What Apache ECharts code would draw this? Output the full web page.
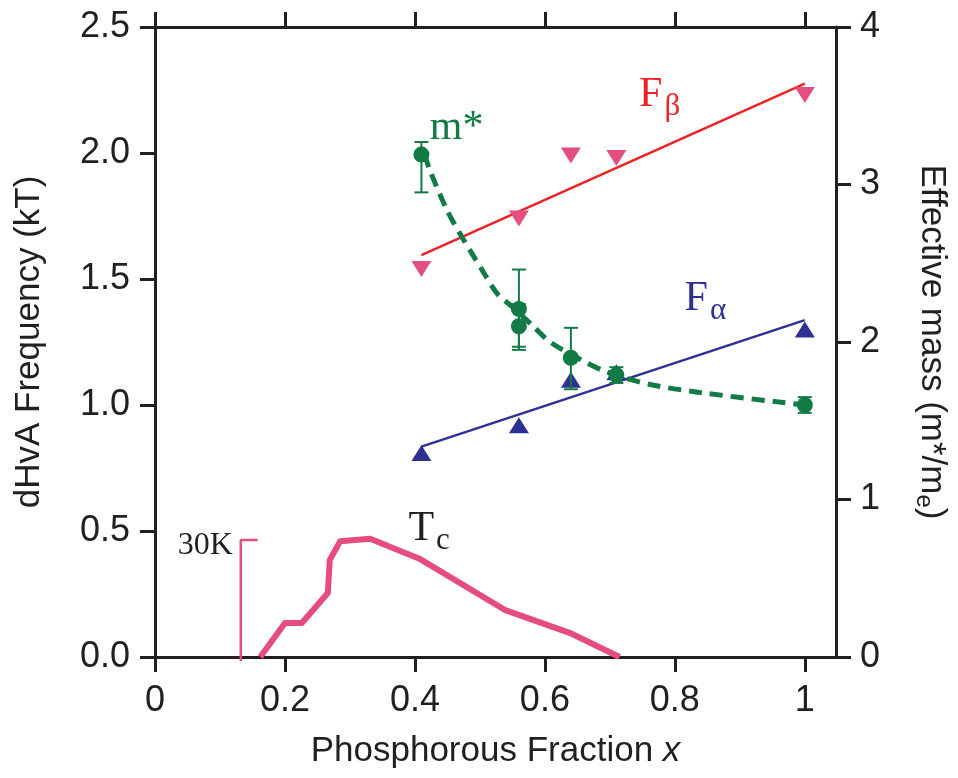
<!DOCTYPE html>
<html>
<head>
<meta charset="utf-8">
<title>dHvA frequency and effective mass vs phosphorous fraction</title>
<script src="https://cdn.jsdelivr.net/npm/echarts@6/dist/echarts.min.js"></script>
<style>
  html, body { margin: 0; padding: 0; background: #fff; }
  #chart { width: 958px; height: 778px; }
</style>
</head>
<body>
<div id="chart"></div>
<script>
// x axis ticks (phosphorous fraction)
const xTicks = [0, 0.2, 0.4, 0.6, 0.8, 1.0]
// phosphorous fraction x of the samples
const sampleX = [0.41, 0.56, 0.64, 0.71, 1.0]
// dHvA frequencies (kT)
const fBeta = [1.54, 1.74, 1.99, 1.98, 2.23]
const fAlpha = [0.81, 0.92, 1.10, 1.13, 1.30]
// linear guides
const fBetaLine = [[0.41, 1.595], [1.0, 2.275]]
const fAlphaLine = [[0.41, 0.835], [1.0, 1.337]]
// effective mass m*/me with error bars [x, value, low, high]
const massPoints = [
  [0.41, 3.19, 2.95, 3.27],
  [0.56, 2.21, 1.95, 2.46],
  [0.56, 2.10, 1.97, 2.24],
  [0.64, 1.90, 1.70, 2.09],
  [0.71, 1.79, 1.74, 1.84],
  [1.0, 1.60, 1.55, 1.65]
]
// dashed guide through m*
const massCurve = [
  [0.415, 3.19], [0.423, 3.09], [0.449, 2.84], [0.469, 2.69], [0.485, 2.58],
  [0.503, 2.46], [0.526, 2.31], [0.551, 2.22], [0.582, 2.10], [0.608, 2.00],
  [0.654, 1.89], [0.695, 1.81], [0.762, 1.73], [0.838, 1.68], [0.957, 1.62],
  [1.0, 1.60]
]
// superconducting Tc (K)
const tcCurve = [
  [0.162, 0], [0.200, 8.7], [0.226, 8.7], [0.266, 16.4], [0.269, 24.9],
  [0.285, 29.7], [0.331, 30.3], [0.408, 25.1], [0.538, 12.1], [0.638, 6.2],
  [0.715, 0]
]
const tcScaleBar = [[0.158, 30], [0.132, 30], [0.132, -1]]
const tcMax = 161.5

const ink = '#231f20'
const green = '#127a45'
const pink = '#e3507f'
const red = '#ec2227'
const blue = '#2e3192'
const tcPink = '#e44c82'
const sans = '"Liberation Sans", Arial, sans-serif'
const serif = '"Liberation Serif", "Times New Roman", serif'

const chart = echarts.init(document.getElementById('chart'))

function textLabel(name, x, y, yAxis, color, text, rich) {
  return {
    name: name,
    type: 'scatter',
    xAxisIndex: 0,
    yAxisIndex: yAxis,
    symbolSize: 0,
    silent: true,
    z: 10,
    itemStyle: { opacity: 1 },
    data: [[x, y]],
    label: {
      show: true,
      position: 'right',
      distance: 0,
      formatter: text,
      color: color,
      fontFamily: serif,
      fontSize: 42,
      rich: rich
    }
  }
}

function subRich(color) {
  return {
    b: { fontFamily: serif, fontSize: 42, color: color },
    s: { fontFamily: serif, fontSize: 31, color: color, padding: [24, 0, 0, 2] }
  }
}

const axisCommon = {
  axisLine: { show: true, onZero: false, lineStyle: { color: ink, width: 3 } },
  axisTick: { show: true, inside: false, length: 15, lineStyle: { color: ink, width: 3 } },
  splitLine: { show: false },
  axisLabel: { color: ink, fontFamily: sans, fontSize: 36, margin: 25 }
}

const option = {
  animation: false,
  backgroundColor: '#fff',
  grid: { left: 155, right: 122, top: 27, bottom: 121 },
  xAxis: [
    Object.assign({}, axisCommon, {
      type: 'value',
      min: 0,
      max: 1.048,
      position: 'bottom',
      name: 'Phosphorous Fraction {i|x}',
      nameLocation: 'middle',
      nameGap: 77,
      nameTextStyle: {
        color: ink, fontFamily: sans, fontSize: 35,
        rich: { i: { fontFamily: sans, fontSize: 35, fontStyle: 'italic', color: ink } }
      },
      axisTick: Object.assign({}, axisCommon.axisTick, { customValues: xTicks }),
      axisLabel: Object.assign({}, axisCommon.axisLabel, {
        margin: 26,
        customValues: xTicks,
        formatter: function (v) {
          if (v === 0) return '0'
          if (Math.abs(v - 1) < 1e-9) return '1'
          return v.toFixed(1)
        }
      })
    }),
    Object.assign({}, axisCommon, {
      type: 'value',
      min: 0,
      max: 1.048,
      position: 'top',
      axisTick: Object.assign({}, axisCommon.axisTick, { customValues: xTicks }),
      axisLabel: { show: false }
    })
  ],
  yAxis: [
    Object.assign({}, axisCommon, {
      type: 'value',
      min: 0,
      max: 2.5,
      interval: 0.5,
      position: 'left',
      name: 'dHvA Frequency (kT)',
      nameLocation: 'middle',
      nameGap: 108,
      nameTextStyle: { color: ink, fontFamily: sans, fontSize: 35 },
      axisLabel: Object.assign({}, axisCommon.axisLabel, {
        formatter: function (v) { return v.toFixed(1) }
      })
    }),
    Object.assign({}, axisCommon, {
      type: 'value',
      min: 0,
      max: 4,
      interval: 1,
      position: 'right',
      name: 'Effective mass (m*/m{s|e})',
      nameLocation: 'middle',
      nameGap: 76,
      nameRotate: -90,
      nameTextStyle: {
        color: ink, fontFamily: sans, fontSize: 35,
        rich: { s: { fontFamily: sans, fontSize: 24, color: ink, padding: [15, 0, 0, 0] } }
      },
      axisLabel: Object.assign({}, axisCommon.axisLabel, { margin: 24 })
    }),
    {
      type: 'value',
      min: 0,
      max: tcMax,
      show: false
    }
  ],
  series: [
    {
      name: 'Tc',
      type: 'line',
      yAxisIndex: 2,
      data: tcCurve,
      symbol: 'none',
      lineStyle: { color: tcPink, width: 6, join: 'round' },
      z: 2
    },
    {
      name: 'Tc scale',
      type: 'line',
      yAxisIndex: 2,
      data: tcScaleBar,
      symbol: 'none',
      clip: false,
      lineStyle: { color: tcPink, width: 2.5 },
      z: 2
    },
    {
      name: 'F beta fit',
      type: 'line',
      data: fBetaLine,
      symbol: 'none',
      lineStyle: { color: red, width: 2.5 },
      z: 3
    },
    {
      name: 'F alpha fit',
      type: 'line',
      data: fAlphaLine,
      symbol: 'none',
      lineStyle: { color: blue, width: 2.5 },
      z: 3
    },
    {
      name: 'F beta',
      type: 'scatter',
      data: sampleX.map((x, i) => [x, fBeta[i]]),
      symbol: 'triangle',
      symbolRotate: 180,
      symbolSize: [20, 16],
      itemStyle: { color: pink, opacity: 1 },
      z: 4
    },
    {
      name: 'F alpha',
      type: 'scatter',
      data: sampleX.map((x, i) => [x, fAlpha[i]]),
      symbol: 'triangle',
      symbolSize: [20, 16],
      itemStyle: { color: blue, opacity: 1 },
      z: 4
    },
    {
      name: 'm* fit',
      type: 'line',
      yAxisIndex: 1,
      data: massCurve,
      smooth: 0.3,
      symbol: 'none',
      lineStyle: { color: green, width: 5, type: [13, 8] },
      z: 5
    },
    {
      name: 'm* error',
      type: 'custom',
      yAxisIndex: 1,
      data: massPoints.map(p => [p[0], p[2], p[3]]),
      renderItem: function (params, api) {
        const lo = api.coord([api.value(0), api.value(1)])
        const hi = api.coord([api.value(0), api.value(2)])
        const w = 7
        const style = { stroke: green, lineWidth: 2 }
        return {
          type: 'group',
          children: [
            { type: 'line', shape: { x1: lo[0], y1: lo[1], x2: hi[0], y2: hi[1] }, style: style },
            { type: 'line', shape: { x1: lo[0] - w, y1: lo[1], x2: lo[0] + w, y2: lo[1] }, style: style },
            { type: 'line', shape: { x1: hi[0] - w, y1: hi[1], x2: hi[0] + w, y2: hi[1] }, style: style }
          ]
        }
      },
      z: 6
    },
    {
      name: 'm*',
      type: 'scatter',
      yAxisIndex: 1,
      data: massPoints.map(p => [p[0], p[1]]),
      symbol: 'circle',
      symbolSize: 16,
      itemStyle: { color: green, opacity: 1 },
      z: 7
    },
    textLabel('label m*', 0.423, 2.10, 0, green, 'm*', null),
    textLabel('label Fb', 0.745, 2.23, 0, red, '{b|F}{s|β}', subRich(red)),
    textLabel('label Fa', 0.815, 1.42, 0, blue, '{b|F}{s|α}', subRich(blue)),
    textLabel('label Tc', 0.39, 0.51, 0, ink, '{b|T}{s|c}', subRich(ink)),
    {
      name: 'label 30K',
      type: 'scatter',
      yAxisIndex: 2,
      symbolSize: 0,
      silent: true,
      itemStyle: { opacity: 1 },
      data: [[0.12, 28.5]],
      label: {
        show: true,
        position: 'left',
        distance: 0,
        formatter: '30K',
        color: ink,
        fontFamily: serif,
        fontSize: 32
      }
    }
  ]
}

chart.setOption(option)
window.addEventListener('resize', function () {
  chart.resize()
})
</script>
</body>
</html>
